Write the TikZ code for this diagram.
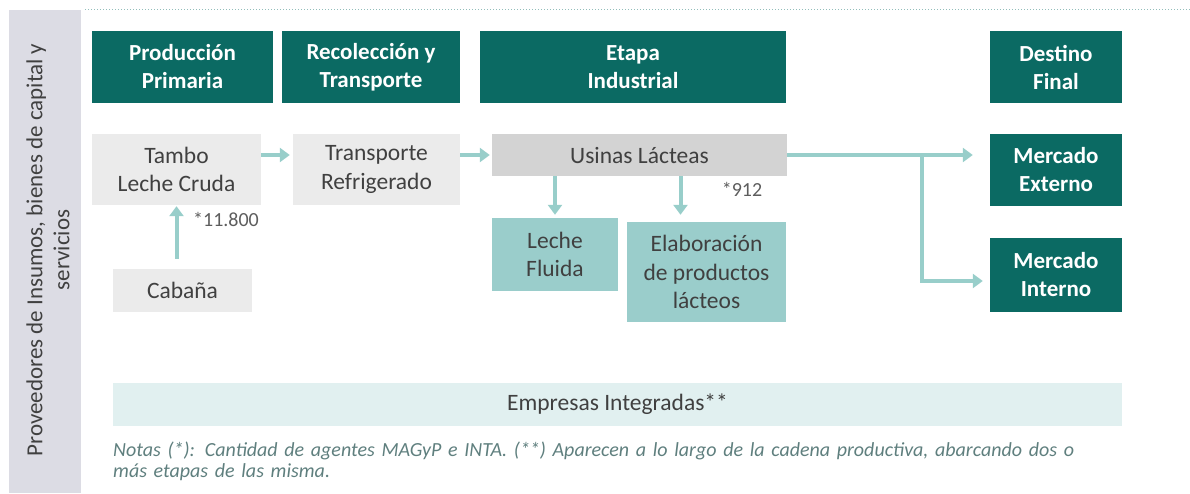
\documentclass[tikz,border=0pt]{standalone}
\usepackage{fontspec}
\setmainfont{Carlito}
\usetikzlibrary{arrows.meta,positioning}
\definecolor{hdteal}{HTML}{0B6A63}
\definecolor{arrteal}{HTML}{98CECA}
\definecolor{lteal}{HTML}{9ACDCB}
\definecolor{paleteal}{HTML}{E1F0F0}
\definecolor{lgray}{HTML}{EBEBEB}
\definecolor{mgray}{HTML}{D3D3D3}
\definecolor{sidebar}{HTML}{DCDCE4}
\definecolor{txtgray}{HTML}{404040}
\definecolor{notegray}{HTML}{5F7F7E}

\begin{document}
\begin{tikzpicture}[x=1pt,y=-1pt,
  hdr/.style={fill=hdteal, text=white, font=\fontsize{23}{28}\selectfont\bfseries, align=center, inner sep=0pt},
  box/.style={fill=lgray, text=txtgray, font=\fontsize{23.5}{28.5}\selectfont, align=center, inner sep=0pt},
  count/.style={text=txtgray!85, font=\fontsize{20}{22}\selectfont, inner sep=0pt},
  flow/.style={draw=arrteal, line width=4pt, -{Triangle[length=10pt,width=14pt]}},
]
  \useasboundingbox (0,0) rectangle (1190,493);
  \fill[sidebar] (9,10) rectangle (81,493);
  \node[rotate=90, align=center, text=txtgray, font=\fontsize{23}{27}\selectfont] (prov) at (48,250) {Proveedores de Insumos, bienes de capital y\\servicios};
  \draw[arrteal!80!gray, dotted, line width=1pt] (85,9) -- (1190,9);

  \node[hdr, minimum width=181pt, minimum height=72pt] (prod) at (182.5,67) {Producción\\Primaria};
  \node[hdr, minimum width=178pt, minimum height=72pt] (recol) at (371,67) {Recolección y\\Transporte};
  \node[hdr, minimum width=306pt, minimum height=72pt] (etapa) at (633,67) {Etapa\\Industrial};
  \node[hdr, minimum width=132pt, minimum height=72pt] (destino) at (1056,67) {Destino\\Final};

  \node[box, minimum width=169pt, minimum height=71pt] (tambo) at (176.5,169.5) {Tambo\\Leche Cruda};
  \node[box, minimum width=167pt, minimum height=71pt] (transp) at (376.5,169.5) {Transporte\\Refrigerado};
  \node[box, fill=mgray, minimum width=295pt, minimum height=42pt] (usinas) at (639.5,155) {Usinas Lácteas};
  \node[box, minimum width=139pt, minimum height=43pt] (cabana) at (182.5,290.5) {Cabaña};
  \node[box, fill=lteal, minimum width=126pt, minimum height=73pt] (leche) at (555,254.5) {Leche\\Fluida};
  \node[box, fill=lteal, minimum width=159pt, minimum height=100pt] (elab) at (706.5,272) {Elaboración\\de productos\\lácteos};
  \node[hdr, minimum width=132pt, minimum height=72pt] (externo) at (1056,170) {Mercado\\Externo};
  \node[hdr, minimum width=132pt, minimum height=74pt] (interno) at (1056,275) {Mercado\\Interno};
  \node[box, fill=paleteal, minimum width=1009pt, minimum height=43pt] (empresas) at (617.5,404.5) {Empresas Integradas**};

  \node[count] (n11800) at (226,219) {*11.800};
  \node[count] (n912) at (742,189) {*912};

  \draw[flow, shorten >=3pt] (tambo.east |- usinas) -- (transp.west |- usinas);
  \draw[flow, shorten >=2pt] (transp.east |- usinas) -- (usinas.west);
  \draw[flow, shorten <=10pt, shorten >=1pt] (cabana.north -| tambo) -- (tambo.south);
  \draw[flow, shorten >=3pt] (usinas.south -| leche) -- (leche.north);
  \draw[flow, shorten >=7pt] ([xshift=-26pt]elab.north |- usinas.south) -- ([xshift=-26pt]elab.north);
  \coordinate (split) at (922,155);
  \draw[flow, shorten >=17pt] (usinas.east) -- (usinas.east -| externo.west);
  \draw[flow, shorten >=7pt] (split) |- ([yshift=-6pt]interno.west);

  \node[anchor=west, align=left, text width=1050pt, inner sep=0pt, text=notegray, font=\fontsize{20}{21}\selectfont\itshape] (notas) at (113,461) {Notas (*): Cantidad de agentes MAGyP e INTA. (**) Aparecen a lo largo de la cadena productiva, abarcando dos o\\más etapas de las misma.};
\end{tikzpicture}
\end{document}
